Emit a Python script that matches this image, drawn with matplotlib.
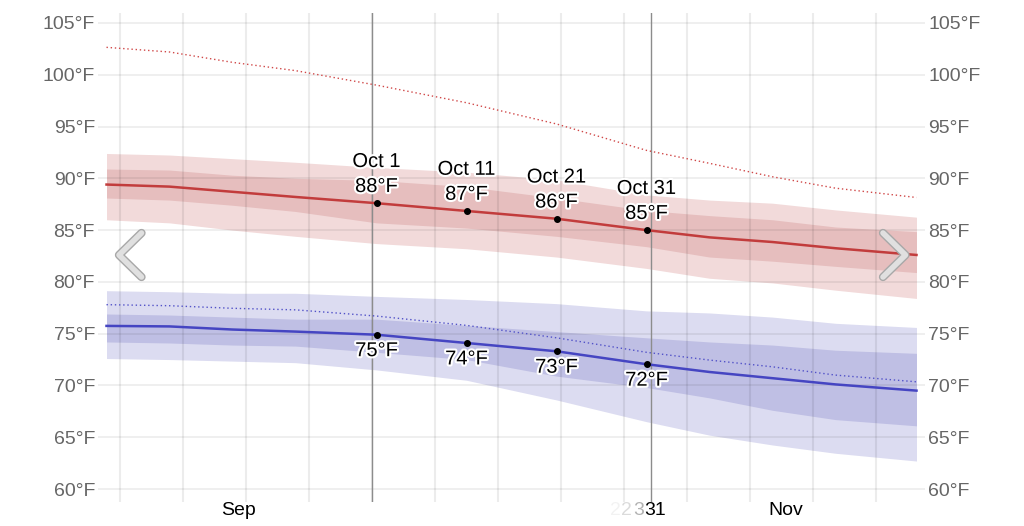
import matplotlib
matplotlib.use("Agg")
import matplotlib.pyplot as plt
import matplotlib.patheffects as pe
from matplotlib.lines import Line2D
from matplotlib.transforms import blended_transform_factory

plt.rcParams["font.family"] = ["Liberation Sans", "DejaVu Sans"]

# day index, 0 = Sep 1 (noon)
days = [0, 7, 14, 21, 30, 40, 50, 60, 67, 74, 81, 90]

high_avg = [89.4, 89.2, 88.7, 88.2, 87.6, 86.85, 86.1, 85.0, 84.3, 83.85, 83.25, 82.6]
high_p25 = [88.1, 87.9, 87.4, 86.8, 85.7, 85.2, 84.4, 83.4, 82.4, 82.0, 81.5, 80.9]
high_p75 = [90.9, 90.8, 90.3, 90.0, 89.8, 89.2, 88.1, 86.9, 86.4, 86.0, 85.3, 84.85]
high_p10 = [86.0, 85.7, 85.0, 84.4, 83.7, 83.2, 82.4, 81.3, 80.35, 79.9, 79.2, 78.4]
high_p90 = [92.4, 92.25, 91.9, 91.55, 91.05, 90.6, 89.85, 88.4, 87.9, 87.6, 86.95, 86.25]
high_perceived = [102.65, 102.2, 101.2, 100.4, 99.0, 97.3, 95.25, 92.7, 91.45, 90.15, 89.05, 88.15]

low_avg = [75.75, 75.7, 75.4, 75.2, 74.9, 74.1, 73.3, 72.05, 71.3, 70.7, 70.1, 69.5]
low_p75 = [76.9, 76.8, 76.6, 76.4, 76.4, 75.8, 75.2, 74.6, 74.2, 73.9, 73.4, 73.1]
low_p25 = [74.2, 74.1, 73.9, 73.8, 73.2, 72.5, 70.9, 69.8, 68.8, 67.6, 66.7, 66.1]
low_p90 = [79.15, 79.05, 78.9, 78.9, 78.6, 78.3, 77.9, 77.2, 77.0, 76.6, 76.0, 75.6]
low_p10 = [72.6, 72.5, 72.35, 72.2, 71.5, 70.5, 68.6, 66.5, 65.2, 64.25, 63.45, 62.7]
low_perceived = [77.8, 77.7, 77.45, 77.3, 76.7, 75.8, 74.6, 73.2, 72.45, 71.8, 71.0, 70.35]

ann_idx = [4, 5, 6, 7]
ann_labels = ["Oct 1", "Oct 11", "Oct 21", "Oct 31"]

yticks = [60, 65, 70, 75, 80, 85, 90, 95, 100, 105]
week_lines = [1.5 + 7 * k for k in range(13)]
month_lines = [29.5, 60.5]
month_labels = [("Sep", 14.7), ("Nov", 75.5)]

W, H = 1024, 526
fig = plt.figure(figsize=(W / 100, H / 100), dpi=100)
ax = fig.add_axes([98 / W, (H - 502) / H, (925 - 98) / W, (502 - 13) / H])
ax.set_xlim((98 - 106.5) / 9, (925 - 106.5) / 9)
ax.set_ylim(60 - 13 / 10.356, 105 + 10 / 10.356)

# bands
ax.fill_between(days, high_p10, high_p90, color="#f2dada", lw=0, zorder=1)
ax.fill_between(days, high_p25, high_p75, color="#e6bebe", lw=0, zorder=1)
ax.fill_between(days, low_p10, low_p90, color="#dcdcf1", lw=0, zorder=1)
ax.fill_between(days, low_p25, low_p75, color="#bfbfe4", lw=0, zorder=1)

# grid over the bands
for t in yticks:
    ax.axhline(t, color="black", alpha=0.07, lw=1.3, zorder=2)
for d in week_lines:
    ax.axvline(d, color="black", alpha=0.075, lw=1.5, zorder=2)
for d in month_lines:
    ax.axvline(d, color="#8c8c8c", lw=1.0, zorder=2)

ax.plot(days, high_perceived, color="#d04848", lw=1.0, ls=(0, (1, 2)), zorder=3)
ax.plot(days, low_perceived, color="#5252c8", lw=1.0, ls=(0, (1, 2)), zorder=3)
ax.plot(days, high_avg, color="#c23c3c", lw=1.8, zorder=4)
ax.plot(days, low_avg, color="#4545c2", lw=1.8, zorder=4)

halo = [pe.withStroke(linewidth=3, foreground="white")]
for i, lab in zip(ann_idx, ann_labels):
    d = days[i]
    ax.plot([d], [high_avg[i]], "o", color="black", ms=4, zorder=5)
    ax.plot([d], [low_avg[i]], "o", color="black", ms=4, zorder=5)
    ax.annotate(lab, (d, high_avg[i]), xytext=(0, 30), textcoords="offset points",
                ha="center", va="center", fontsize=14.5, color="black", path_effects=halo, zorder=6)
    ax.annotate(f"{round(high_avg[i])}°F", (d, high_avg[i]), xytext=(0, 12), textcoords="offset points",
                ha="center", va="center", fontsize=14.5, color="black", path_effects=halo, zorder=6)
    ax.annotate(f"{round(low_avg[i])}°F", (d, low_avg[i]), xytext=(0, -11.5), textcoords="offset points",
                ha="center", va="center", fontsize=14.5, color="black", path_effects=halo, zorder=6)

ax.set_yticks(yticks)
ax.set_yticklabels([f"{t}°F" for t in yticks])
ax.set_xticks([])
ax.tick_params(axis="y", length=0, pad=2.2, labelsize=14, labelcolor="#666666",
               left=False, right=False, labelleft=True, labelright=True)
for s in ax.spines.values():
    s.set_visible(False)

tr = blended_transform_factory(ax.transData, ax.transAxes)
for lab, d in month_labels:
    ax.text(d, -0.017, lab, transform=tr, ha="center", va="center", fontsize=14, color="black")
# day label at the Oct 31 marker, with fading leftovers
ax.text(61.0, -0.017, "31", transform=tr, ha="center", va="center", fontsize=14, color="black")
for txt, d, a in [("2", 56.6, 0.05), ("2", 57.8, 0.14), ("3", 59.1, 0.3)]:
    ax.text(d, -0.017, txt, transform=tr, ha="center", va="center", fontsize=14, color="black", alpha=a)

# navigation chevrons
chev = [pe.Stroke(linewidth=6, foreground="#a8a8a8"), pe.Normal()]
for xs, ys in [([141.5, 119, 141.5], [233, 255, 277]), ([883, 905.5, 883], [233, 255, 277])]:
    fig.add_artist(Line2D([x / W for x in xs], [1 - y / H for y in ys], transform=fig.transFigure,
                          color="#e0e0e0", lw=4, solid_capstyle="round", solid_joinstyle="round",
                          path_effects=chev, zorder=10))

fig.savefig("out.png", dpi=100)
